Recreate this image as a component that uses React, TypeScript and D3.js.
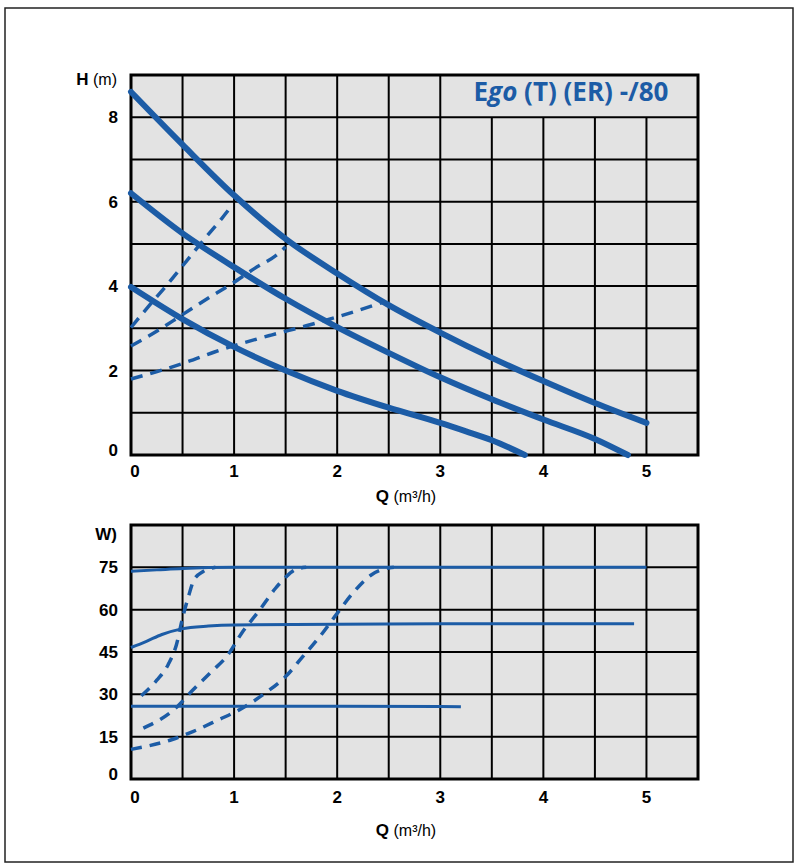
import React from "react";
import * as d3 from "d3";

// ---- Data ----
const qTicks = [0, 1, 2, 3, 4, 5];
const hTicks = [0, 2, 4, 6, 8];
const wTicks = [0, 15, 30, 45, 60, 75];

// Head curves (solid)
const h1Q = [0, 0.5, 1, 1.5, 2, 2.5, 3, 3.5, 4, 4.5, 5];
const h1H = [8.6, 7.35, 6.15, 5.12, 4.3, 3.55, 2.9, 2.3, 1.75, 1.23, 0.76];
const h2Q = [0, 0.5, 1, 1.5, 2, 2.5, 3, 3.5, 4, 4.5, 4.82];
const h2H = [6.2, 5.25, 4.45, 3.7, 3.03, 2.42, 1.84, 1.32, 0.84, 0.38, 0];
const h3Q = [0, 0.5, 1, 1.5, 2, 2.5, 3, 3.25, 3.5, 3.82];
const h3H = [3.98, 3.22, 2.56, 2.0, 1.52, 1.12, 0.76, 0.56, 0.35, 0];

// Head curves (dashed)
const d1Q = [0, 0.18, 0.36, 0.54, 0.7, 0.88, 0.97];
const d1H = [3.02, 3.55, 4.06, 4.6, 5.08, 5.6, 5.88];
const d2Q = [0, 0.27, 0.49, 0.72, 0.98, 1.2, 1.43, 1.5];
const d2H = [2.58, 2.96, 3.31, 3.67, 4.06, 4.42, 4.77, 4.93];
const d3Q = [0, 0.3, 0.55, 0.81, 1.07, 1.36, 1.7, 2.0, 2.45];
const d3H = [1.8, 2.01, 2.21, 2.44, 2.64, 2.84, 3.06, 3.27, 3.62];

// Power curves (solid)
const p1Q = [0, 0.25, 0.5, 1, 2, 3, 4, 5];
const p1W = [73.6, 74.1, 74.6, 75, 75, 75, 75, 75];
const p2Q = [0, 0.15, 0.3, 0.49, 0.75, 1, 2, 3, 4, 4.88];
const p2W = [46.6, 48.8, 51.2, 53.2, 54.2, 54.6, 54.8, 55, 55, 55];
const p3Q = [0, 1, 2, 3, 3.2];
const p3W = [25.8, 25.8, 25.8, 25.7, 25.6];

// Power curves (dashed)
const b1Q = [0.1, 0.25, 0.36, 0.44, 0.5, 0.56, 0.61, 0.7, 0.82];
const b1W = [29.5, 35, 40.5, 47.5, 57, 65, 70.5, 73.5, 75];
const b2Q = [0.12, 0.43, 0.6, 0.78, 0.94, 1.07, 1.25, 1.4, 1.5, 1.6, 1.7];
const b2W = [18, 25, 31.5, 38, 44, 51.5, 60, 67.5, 71.5, 74.3, 75];
const b3Q = [0, 0.4, 0.6, 0.85, 1.05, 1.3, 1.5, 1.67, 1.83, 2.0, 2.15, 2.33, 2.45, 2.55];
const b3W = [10.5, 14, 16.8, 21, 24.5, 30.4, 36.3, 43.5, 50.4, 58.7, 65.8, 72.3, 74.4, 75];

const BLUE = "#1c5ca6";
const GRID_FILL = "#e3e3e3";
const LABEL_FONT = "'Liberation Sans', Arial, sans-serif";

const zip = (xs: number[], ys: number[]) => xs.map((x, i) => [x, ys[i]] as [number, number]);

export default function App() {
  const left = 131;
  const right = 698;

  const x = d3.scaleLinear().domain([0, 5.5]).range([left, right]);
  const yH = d3.scaleLinear().domain([0, 9]).range([455, 75]);
  const yW = d3.scaleLinear().domain([0, 90]).range([779, 525]);

  const lineH = d3
    .line<[number, number]>()
    .x((d) => x(d[0]))
    .y((d) => yH(d[1]))
    .curve(d3.curveMonotoneX);
  const lineW = d3
    .line<[number, number]>()
    .x((d) => x(d[0]))
    .y((d) => yW(d[1]))
    .curve(d3.curveMonotoneX);

  const halfSteps = d3.range(0.5, 5.5, 0.5);

  const topVLines = halfSteps.map((q) => {
    const top = q > 3 ? yH(8) : yH(9);
    return <line key={"tv" + q} x1={x(q)} x2={x(q)} y1={top} y2={yH(0)} stroke="#000" strokeWidth={2} />;
  });
  const topHLines = d3.range(1, 9).map((h) => (
    <line key={"th" + h} x1={x(0)} x2={x(5.5)} y1={yH(h)} y2={yH(h)} stroke="#000" strokeWidth={2} />
  ));

  const botVLines = halfSteps.map((q) => (
    <line key={"bv" + q} x1={x(q)} x2={x(q)} y1={yW(90)} y2={yW(0)} stroke="#000" strokeWidth={2} />
  ));
  const botHLines = d3.range(15, 90, 15).map((w) => (
    <line key={"bh" + w} x1={x(0)} x2={x(5.5)} y1={yW(w)} y2={yW(w)} stroke="#000" strokeWidth={2} />
  ));

  const tickStyle: React.CSSProperties = {
    fontFamily: LABEL_FONT,
    fontSize: 17,
    fontWeight: 700,
  };
  const axisStyle: React.CSSProperties = {
    fontFamily: LABEL_FONT,
    fontSize: 16,
    fontWeight: 400,
  };

  return (
    <svg
      width={800}
      height={867}
      style={{ position: "absolute", left: 0, top: 0, background: "#fff" }}
    >
      <rect x={5} y={8} width={788} height={854} fill="#fff" stroke="#222" strokeWidth={1.5} />

      {/* ---------- Top chart ---------- */}
      <rect x={x(0)} y={yH(9)} width={x(5.5) - x(0)} height={yH(0) - yH(9)} fill={GRID_FILL} />
      {topVLines}
      {topHLines}
      <rect
        x={x(0)}
        y={yH(9)}
        width={x(5.5) - x(0)}
        height={yH(0) - yH(9)}
        fill="none"
        stroke="#000"
        strokeWidth={3}
      />
      <text
        x={571}
        y={101}
        textAnchor="middle"
        fill={BLUE}
        style={{ fontFamily: "'Open Sans', sans-serif", fontSize: 26, fontWeight: 700 }}
      >
        E<tspan fontStyle="italic">go</tspan> (T) (ER) -/80
      </text>

      {[zip(d1Q, d1H), zip(d2Q, d2H), zip(d3Q, d3H)].map((pts, i) => (
        <path
          key={"dh" + i}
          d={lineH(pts) || ""}
          fill="none"
          stroke={BLUE}
          strokeWidth={3.5}
          strokeDasharray="12 8"
        />
      ))}
      {[zip(h1Q, h1H), zip(h2Q, h2H), zip(h3Q, h3H)].map((pts, i) => (
        <path
          key={"sh" + i}
          d={lineH(pts) || ""}
          fill="none"
          stroke={BLUE}
          strokeWidth={6}
          strokeLinecap="round"
        />
      ))}

      {hTicks.map((h) => (
        <text key={"hl" + h} x={118} y={yH(h) - (h === 0 ? 5 : 0)} dy="0.35em" textAnchor="end" style={tickStyle}>
          {h}
        </text>
      ))}
      {qTicks.map((q) => (
        <text key={"ql" + q} x={x(q) + (q === 0 ? 4 : 0)} y={471} dy="0.35em" textAnchor="middle" style={tickStyle}>
          {q}
        </text>
      ))}
      <text x={117} y={79} dy="0.35em" textAnchor="end" style={axisStyle}>
        <tspan fontWeight={700} fontSize={17}>H</tspan> (m)
      </text>
      <text x={406} y={496} dy="0.35em" textAnchor="middle" style={axisStyle}>
        <tspan fontWeight={700} fontSize={17}>Q</tspan> (m³/h)
      </text>

      {/* ---------- Bottom chart ---------- */}
      <rect x={x(0)} y={yW(90)} width={x(5.5) - x(0)} height={yW(0) - yW(90)} fill={GRID_FILL} />
      {botVLines}
      {botHLines}
      <rect
        x={x(0)}
        y={yW(90)}
        width={x(5.5) - x(0)}
        height={yW(0) - yW(90)}
        fill="none"
        stroke="#000"
        strokeWidth={3}
      />

      {[zip(b1Q, b1W), zip(b2Q, b2W), zip(b3Q, b3W)].map((pts, i) => (
        <path
          key={"dw" + i}
          d={lineW(pts) || ""}
          fill="none"
          stroke={BLUE}
          strokeWidth={3.5}
          strokeDasharray="11 8"
        />
      ))}
      {[zip(p1Q, p1W), zip(p2Q, p2W), zip(p3Q, p3W)].map((pts, i) => (
        <path key={"sw" + i} d={lineW(pts) || ""} fill="none" stroke={BLUE} strokeWidth={3} />
      ))}

      {wTicks.map((w) => (
        <text key={"wl" + w} x={118} y={yW(w) - (w === 0 ? 5 : 0)} dy="0.35em" textAnchor="end" style={tickStyle}>
          {w}
        </text>
      ))}
      {qTicks.map((q) => (
        <text key={"qb" + q} x={x(q) + (q === 0 ? 4 : 0)} y={797} dy="0.35em" textAnchor="middle" style={tickStyle}>
          {q}
        </text>
      ))}
      <text x={117} y={534} dy="0.35em" textAnchor="end" style={tickStyle}>
        W)
      </text>
      <text x={406} y={830} dy="0.35em" textAnchor="middle" style={axisStyle}>
        <tspan fontWeight={700} fontSize={17}>Q</tspan> (m³/h)
      </text>
    </svg>
  );
}
